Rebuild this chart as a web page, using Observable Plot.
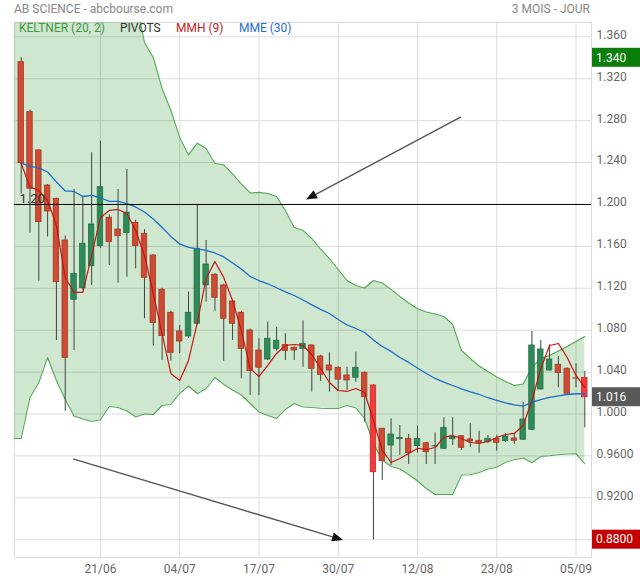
<!DOCTYPE html>
<html><head><meta charset="utf-8">
<script src="https://cdn.jsdelivr.net/npm/d3@7"></script>
<script src="https://cdn.jsdelivr.net/npm/@observablehq/plot@0.6"></script>
<style>
body{margin:0;background:#fff;font-family:Roboto,"Open Sans",sans-serif;}
#wrap{position:relative;width:640px;height:580px;}
.t{position:absolute;font-size:12px;white-space:nowrap;line-height:14px;z-index:2;}
</style></head><body>
<div id="wrap">
<div id="chart"></div>
<div class="t" style="left:14px;top:2px;color:#888">AB SCIENCE - abcbourse.com</div>
<div class="t" style="right:50px;top:2px;color:#888">3 MOIS - JOUR</div>
<div class="t" style="left:19px;top:21px;color:#3f9a3f">KELTNER (20, 2)</div>
<div class="t" style="left:120px;top:21px;color:#333">PIVOTS</div>
<div class="t" style="left:176px;top:21px;color:#cc2222">MMH (9)</div>
<div class="t" style="left:239px;top:21px;color:#1f6fce">MME (30)</div>
</div>
<script>
// trading-day index 0..64 (10/06 -> 06/09)
const open = [1.3358,1.2881,1.2516,1.2181,1.2054,1.1656,1.109,1.1201,1.1411,1.1602,
  1.1873,1.1761,1.1726,1.1825,1.172,1.1513,1.1186,1.0966,1.0788,1.074,
  1.0861,1.1227,1.1329,1.1227,1.1074,1.0966,1.0797,1.0606,1.052,1.0622,
  1.0657,1.0632,1.0622,1.0654,1.0549,1.0463,1.0441,1.0368,1.0346,1.0393,
  1.0272,0.9859,0.9699,0.976,0.9763,0.9693,0.9721,0.969,0.9668,0.9759,
  0.9788,0.9757,0.9744,0.9731,0.9763,0.9741,0.9766,0.9754,0.9849,1.0234,
  1.0415,1.047,1.0432,1.034,1.0345];
const high = [1.340,1.290,1.252,1.219,1.206,1.170,1.2143,1.208,1.2494,1.2604,
  1.190,1.2143,1.2334,1.185,1.176,1.152,1.120,1.098,1.0845,1.1163,
  1.200,1.1656,1.134,1.124,1.108,1.098,1.081,1.0718,1.0876,1.0829,
  1.0766,1.064,1.089,1.066,1.056,1.0584,1.045,1.0447,1.059,1.040,
  1.028,0.986,0.9954,0.989,0.9804,0.9884,0.973,0.9821,0.9964,0.9964,
  0.979,0.9906,0.9836,0.9795,0.9795,0.9811,0.9811,1.0113,1.0788,1.0702,
  1.066,1.0549,1.044,1.0479,1.0406];
const low = [1.210,1.1726,1.1268,1.169,1.0702,1.0027,1.0606,1.118,1.1227,1.158,
  1.1418,1.1249,1.1306,1.1386,1.0909,1.0647,1.0511,1.0504,1.0575,1.072,
  1.085,1.1067,1.0981,1.0504,1.0702,1.0336,1.0177,1.0177,1.051,1.060,
  1.0511,1.051,1.0447,1.0208,1.031,1.0208,1.0218,1.0224,1.0304,0.9922,
  0.880,0.9365,0.9508,0.9604,0.9518,0.9626,0.9518,0.9518,0.966,0.970,
  0.9652,0.9683,0.9626,0.9721,0.9645,0.973,0.9709,0.975,0.984,1.023,
  1.041,1.025,1.019,1.025,0.9868];
const close = [1.2394,1.215,1.1831,1.1933,1.1258,1.0536,1.1338,1.1625,1.1809,1.2165,
  1.164,1.1697,1.1921,1.1602,1.130,1.0867,1.0743,1.0584,1.0692,1.0966,
  1.1577,1.1427,1.1109,1.0909,1.0861,1.0622,1.0409,1.0441,1.0718,1.0699,
  1.0603,1.0606,1.067,1.0431,1.0374,1.0415,1.0327,1.032,1.0441,1.016,
  0.9444,0.955,0.9804,0.977,0.9626,0.9763,0.9635,0.9693,0.9868,0.9782,
  0.9677,0.9737,0.9722,0.9763,0.9725,0.9785,0.9744,0.9947,1.0654,1.0616,
  1.052,1.039,1.0193,1.0338,1.016];
// MMH (9)
const mmh = [1.2394,1.2165,1.2134,1.2038,1.180,1.1303,1.116,1.116,1.1513,1.1876,
  1.1943,1.1952,1.1914,1.1752,1.1513,1.115,1.0768,1.0386,1.032,1.0511,
  1.0873,1.1294,1.1456,1.1303,1.1084,1.0797,1.0434,1.0358,1.0463,1.0578,
  1.0654,1.0663,1.0654,1.0568,1.0434,1.0301,1.0224,1.0215,1.0243,1.0205,
  0.9938,0.9652,0.9537,0.9575,0.9623,0.9671,0.9661,0.968,0.9776,0.9795,
  0.9766,0.9728,0.9718,0.9737,0.9776,0.9804,0.9814,0.989,1.0129,1.0434,
  1.0654,1.0673,1.0539,1.0368,1.0253];
// MME (30)
const mme = [1.2394,1.2363,1.235,1.231,1.2215,1.2129,1.2124,1.2076,1.2086,1.2064,
  1.2029,1.2029,1.2007,1.1976,1.1928,1.1862,1.178,1.1695,1.1623,1.159,
  1.1577,1.1561,1.1537,1.1499,1.1442,1.1384,1.1313,1.1274,1.1243,1.1205,
  1.1165,1.1131,1.1088,1.1041,1.0998,1.0959,1.0902,1.085,1.0816,1.0778,
  1.0706,1.0644,1.0597,1.0539,1.0492,1.0439,1.0387,1.0339,1.0305,1.0272,
  1.0239,1.021,1.0186,1.0155,1.0129,1.0105,1.0086,1.0074,1.0113,1.0138,
  1.0158,1.0172,1.0186,1.0193,1.0193];
// Keltner (20, 2) bands, from index -1 to 64
const keltnerUpper = [1.46,
  1.46,1.458,1.455,1.452,1.448,1.444,1.44,1.435,1.43,1.425,
  1.418,1.41,1.402,1.395,1.3547,1.3403,1.3107,1.2897,1.264,1.2473,
  1.2585,1.2535,1.2391,1.2379,1.2291,1.2196,1.211,1.2115,1.2105,1.2076,
  1.1943,1.178,1.1752,1.1675,1.1575,1.1484,1.1379,1.1274,1.1227,1.1203,
  1.1274,1.125,1.1189,1.1122,1.106,1.1004,1.0974,1.0955,1.0931,1.0854,
  1.0606,1.053,1.0458,1.0406,1.0353,1.031,1.0272,1.0286,1.0444,1.053,
  1.0558,1.0601,1.0644,1.0692,1.074];
const keltnerLower = [0.9766,
  0.9766,1.0158,1.0301,1.0539,1.032,1.0138,0.9981,0.9952,0.9928,0.9945,
  1.0072,1.0062,1.0029,0.9971,1.0,0.9995,1.0081,1.0091,1.0196,1.0267,
  1.0193,1.0243,1.0348,1.0282,1.0229,1.0181,1.01,1.0019,0.9986,0.9957,
  1.0043,1.01,1.0067,1.0062,1.0055,1.0053,1.0053,1.0081,1.0057,0.9957,
  0.9718,0.9561,0.9499,0.9475,0.9422,0.936,0.9289,0.9231,0.9231,0.9231,
  0.9418,0.942,0.9442,0.9475,0.9492,0.954,0.9563,0.958,0.9535,0.9594,
  0.9601,0.9611,0.9618,0.962,0.9525];
const pivot = 1.20;
const xTickIdx = [9,18,27,36,45,54,63];
const xTickLabels = ["21/06","04/07","17/07","30/07","12/08","23/08","05/09"];
const yTicks = [1.36,1.32,1.28,1.24,1.20,1.16,1.12,1.08,1.04,1.00,0.96,0.92,0.88];
// annotation arrows (index, price)
const arrows = [
  {x1: 50.0, y1: 1.2831, x2: 32.4, y2: 1.2043},
  {x1: 5.94, y1: 0.9566, x2: 36.6, y2: 0.8792}
];

const candles = open.map((o,i)=>({i, open:o, high:high[i], low:low[i], close:close[i]}));
const band = keltnerUpper.map((u,k)=>({i:k-1, up:u, lo:keltnerLower[k]}));
const mmhData = mmh.map((v,i)=>({i, v}));
const mmeData = mme.map((v,i)=>({i, v}));
const lastIdx = candles.length-1;
const minIdx = d3.minIndex(candles, d=>d.low);
const fmt = d3.format(".4r");

const bodyFill = d => d.close > d.open ? "#2e8b57" : ((d.i===lastIdx||d.i===minIdx) ? "#f23c3c" : "#cc4b32");
const bodyStroke = d => d.close > d.open ? "#23704a" : ((d.i===lastIdx||d.i===minIdx) ? "#c42a2a" : "#a23a26");

const badgesList = [
  {value: d3.max(high), color: "#0a7d0a"},
  {value: close[lastIdx], color: "#595959"},
  {value: d3.min(low), color: "#c40000"}
];
// tick labels hidden beneath a badge are not drawn (gridline kept)
const yLabelTicks = yTicks.filter(t => !badgesList.some(b => Math.abs(b.value - t) < 0.004));

function arrowsMark(index, scales, values, dimensions) {
  const g = d3.create("svg:g");
  for (const a of arrows) {
    const x1 = scales.x(a.x1), y1 = scales.y(a.y1), x2 = scales.x(a.x2), y2 = scales.y(a.y2);
    const ang = Math.atan2(y2-y1, x2-x1);
    const L = 11, W = 4.5;
    const bx = x2 - L*Math.cos(ang), by = y2 - L*Math.sin(ang);
    g.append("line").attr("x1",x1).attr("y1",y1).attr("x2",bx).attr("y2",by)
      .attr("stroke","#555").attr("stroke-width",1.4);
    g.append("path").attr("d",`M${x2},${y2}L${bx+W*Math.sin(ang)},${by-W*Math.cos(ang)}L${bx-W*Math.sin(ang)},${by+W*Math.cos(ang)}Z`)
      .attr("fill","#111");
  }
  return g.node();
}
function badgesMark(index, scales, values, dimensions) {
  const g = d3.create("svg:g").attr("text-anchor","start");
  const xr = dimensions.width - dimensions.marginRight;
  for (const b of badgesList) {
    const y = scales.y(b.value);
    g.append("rect").attr("x",xr+1).attr("y",y-9.5).attr("width",dimensions.marginRight-1).attr("height",19).attr("fill",b.color);
    g.append("text").attr("x",xr+5).attr("y",y).attr("dy","0.35em").attr("fill","#fff")
      .attr("text-anchor","start").attr("font-size",12).text(fmt(b.value));
  }
  return g.node();
}

const chart = Plot.plot({
  width: 640, height: 580,
  marginLeft: 14, marginRight: 49, marginTop: 22, marginBottom: 23,
  style: {fontFamily: "Roboto, sans-serif", fontSize: "12px", color: "#666", background: "#fff"},
  x: {type: "linear", domain: [-0.76, 64.76], label: null},
  y: {domain: [0.863, 1.3737], label: null},
  marks: [
    Plot.gridY(yTicks, {stroke: "#dcdcdc", strokeOpacity: 1}),
    Plot.gridX(xTickIdx, {stroke: "#dcdcdc", strokeOpacity: 1}),
    Plot.frame({stroke: "#dcdcdc"}),
    Plot.areaY(band, {x: "i", y1: "lo", y2: "up", fill: "rgb(0,128,0)", fillOpacity: 0.19, clip: true}),
    Plot.line(band, {x: "i", y: "up", stroke: "#55a955", strokeWidth: 1.1, clip: true}),
    Plot.line(band, {x: "i", y: "lo", stroke: "#55a955", strokeWidth: 1.1, clip: true}),
    Plot.ruleX(candles, {x: "i", y1: "low", y2: "high", stroke: "#3f453f", strokeWidth: 1}),
    Plot.rect(candles, {x1: d => d.i - 0.31, x2: d => d.i + 0.31, y1: "open", y2: "close",
      fill: bodyFill, stroke: bodyStroke, strokeWidth: 0.8}),
    Plot.line(mmeData, {x: "i", y: "v", stroke: "#1a6dcc", strokeWidth: 1.3}),
    Plot.line(mmhData, {x: "i", y: "v", stroke: "#c81414", strokeWidth: 1.2}),
    Plot.ruleY([pivot], {stroke: "#000", strokeWidth: 1}),
    Plot.text([pivot], {y: d => d, text: d => d.toFixed(2), frameAnchor: "left", textAnchor: "start",
      dx: 5, dy: -6, fill: "#333", fontSize: 13}),
    arrowsMark,
    Plot.axisY(yLabelTicks, {anchor: "right", tickSize: 0, tickPadding: 5, tickFormat: fmt, dy: -2, label: null}),
    Plot.axisX(xTickIdx, {anchor: "bottom", tickSize: 0, tickPadding: 7, label: null,
      tickFormat: d => xTickLabels[xTickIdx.indexOf(d)]}),
    badgesMark
  ]
});
document.getElementById("chart").appendChild(chart);
</script>
</body></html>
